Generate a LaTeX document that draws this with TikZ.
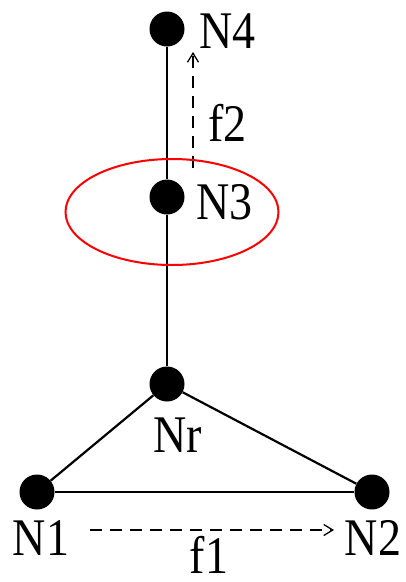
\documentclass[tikz,border=0pt]{standalone}
\usepackage{fontspec}
\setmainfont{Liberation Serif}
\usetikzlibrary{arrows.meta,shapes.geometric}
\begin{document}
\begin{tikzpicture}[x=1pt,y=-1pt,
  dot/.style={circle,fill=black,inner sep=0pt,minimum size=35pt},
  lbl/.style={inner sep=0pt,font=\fontsize{46}{46}\selectfont},
  edge/.style={line width=2.2pt},
  flow/.style={line width=1.5pt,dash pattern=on 12pt off 8pt,
    -{Straight Barb[length=9pt,width=11pt,line width=1.3pt]}},
  zone/.style={draw=red,line width=2pt}]
\useasboundingbox (0,0) rectangle (405,582);
% nodes
\node[dot] (N4) at (167,29) {};
\node[dot] (N3) at (167,197) {};
\node[dot] (Nr) at (167,384) {};
\node[dot] (N1) at (37,492) {};
\node[dot] (N2) at (372,492) {};
% labels
\node[lbl,anchor=west] (L4) at (199,31) {\scalebox{1}[1.15]{N4}};
\node[lbl,anchor=west] (L3) at (196,202) {\scalebox{1}[1.15]{N3}};
\node[lbl] (Lr) at (178,435) {\scalebox{1}[1.15]{Nr}};
\node[lbl] (L1) at (41,538) {\scalebox{1}[1.15]{N1}};
\node[lbl] (L2) at (373,538) {\scalebox{1}[1.15]{N2}};
\node[lbl,anchor=west] (Lf2) at (208,123) {\scalebox{1}[1.15]{f2}};
\node[lbl] (Lf1) at (209,555) {\scalebox{1}[1.15]{f1}};
% edges
\draw[edge] (N4) -- (N3);
\draw[edge] (N3) -- (Nr);
\draw[edge] (Nr) -- (N1);
\draw[edge] (Nr) -- (N2);
\draw[edge] (N1) -- (N2);
% flows
\coordinate (f2s) at (193,168);
\coordinate (f2e) at (193,52);
\coordinate (f1s) at (90,530);
\coordinate (f1e) at (334,530);
\draw[flow] (f2s) -- (f2e);
\draw[flow] (f1s) -- (f1e);
% ellipse
\node[zone,ellipse,minimum width=213pt,minimum height=106pt,inner sep=0pt] (Z) at (172,212) {};
\end{tikzpicture}
\end{document}
